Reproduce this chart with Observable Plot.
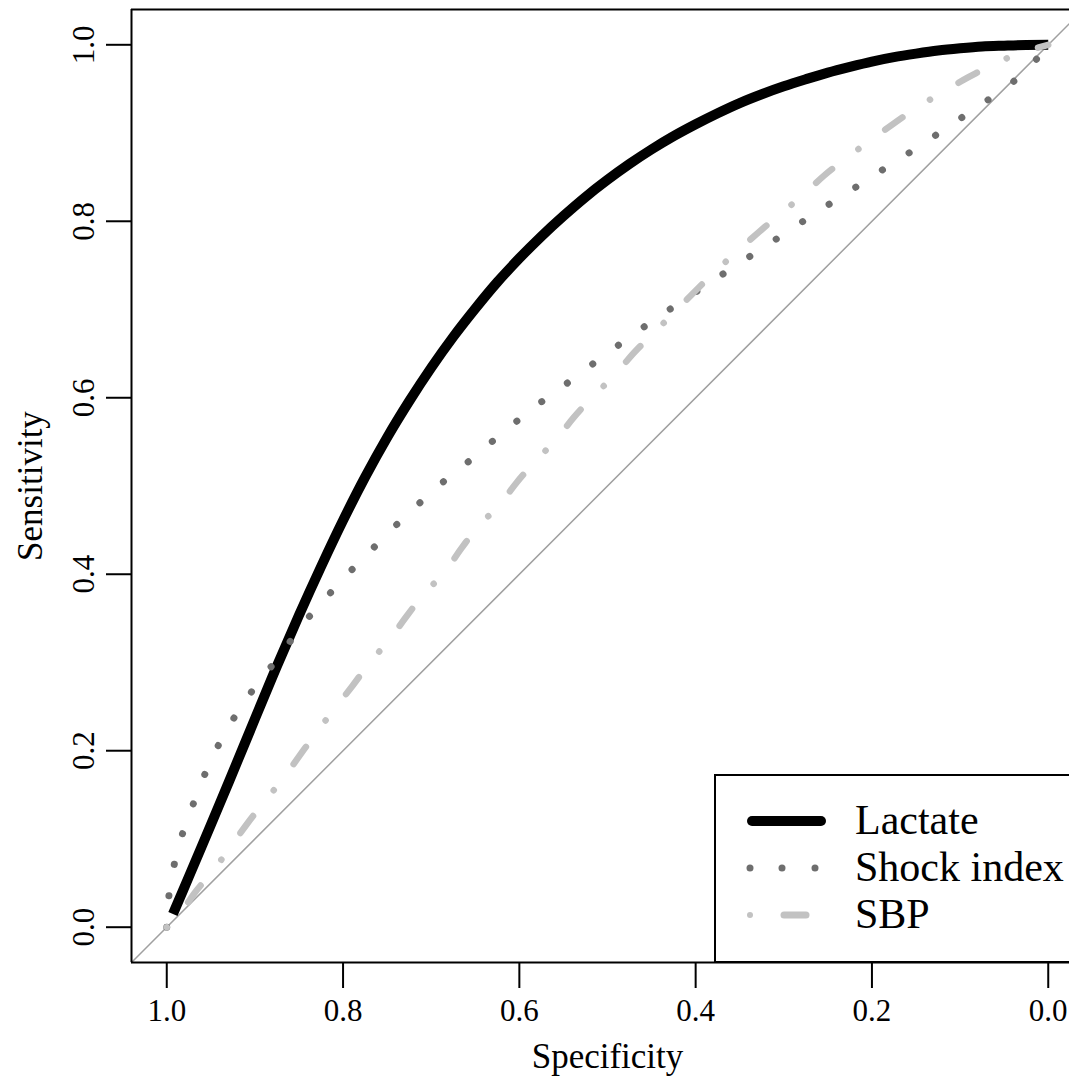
<!DOCTYPE html>
<html><head><meta charset="utf-8">
<script src="https://cdn.jsdelivr.net/npm/d3@7"></script>
<script src="https://cdn.jsdelivr.net/npm/@observablehq/plot@0.6"></script>
<style>html,body{margin:0;padding:0;overflow:hidden;background:#fff;}</style>
</head><body><div id="chart"></div>
<script>
// Axis domains and ticks
const xDomain = [1.04, -0.04];
const yDomain = [-0.04, 1.04];
const xTicks = [1.0, 0.8, 0.6, 0.4, 0.2, 0.0];
const yTicks = [0.0, 0.2, 0.4, 0.6, 0.8, 1.0];
const seriesNames = ["Lactate", "Shock index", "SBP"];

// Lactate (smoothed ROC)
const lactateSpec = [0.993, 0.975, 0.95, 0.929, 0.90, 0.875, 0.85, 0.825, 0.80, 0.775, 0.75, 0.725, 0.70, 0.675, 0.65, 0.625, 0.60, 0.575, 0.55, 0.525, 0.50, 0.475, 0.45, 0.425, 0.40, 0.375, 0.35, 0.325, 0.30, 0.275, 0.25, 0.225, 0.20, 0.175, 0.15, 0.125, 0.10, 0.075, 0.05, 0.025, 0.0];
const lactateSens = [0.015, 0.057, 0.116, 0.166, 0.236, 0.296, 0.3535, 0.4085, 0.461, 0.510, 0.555, 0.596, 0.634, 0.669, 0.701, 0.731, 0.758, 0.783, 0.806, 0.8275, 0.847, 0.865, 0.8815, 0.8965, 0.910, 0.9225, 0.934, 0.944, 0.953, 0.961, 0.9685, 0.975, 0.981, 0.986, 0.990, 0.9935, 0.996, 0.998, 0.999, 0.9998, 1.0];

// Shock index
const shockSpec = [1.0, 0.999, 0.994, 0.986, 0.974, 0.962, 0.94, 0.92, 0.90, 0.87, 0.846, 0.823, 0.799, 0.774, 0.749, 0.722, 0.697, 0.668, 0.641, 0.613, 0.585, 0.557, 0.528, 0.498, 0.469, 0.440, 0.38, 0.3205, 0.290, 0.260, 0.230, 0.1996, 0.1694, 0.139, 0.109, 0.080, 0.050, 0.023, 0.0];
const shockSens = [0.0, 0.023, 0.058, 0.094, 0.128, 0.161, 0.209, 0.243, 0.272, 0.31, 0.343, 0.369, 0.396, 0.421, 0.447, 0.472, 0.496, 0.519, 0.542, 0.565, 0.588, 0.608, 0.630, 0.652, 0.673, 0.693, 0.733, 0.772, 0.792, 0.812, 0.831, 0.851, 0.870, 0.890, 0.910, 0.930, 0.950, 0.973, 1.0];

// SBP
const sbpSpec = [1.0, 0.989, 0.969, 0.946, 0.929, 0.909, 0.887, 0.870, 0.83, 0.789, 0.768, 0.748, 0.729, 0.708, 0.685, 0.666, 0.646, 0.623, 0.603, 0.581, 0.558, 0.538, 0.515, 0.4925, 0.470, 0.447, 0.426, 0.38, 0.328, 0.302, 0.279, 0.254, 0.226, 0.204, 0.175, 0.147, 0.122, 0.091, 0.060, 0.033, 0.0];
const sbpSens = [0.0, 0.009, 0.038, 0.066, 0.089, 0.117, 0.145, 0.166, 0.221, 0.274, 0.302, 0.325, 0.351, 0.378, 0.402, 0.429, 0.455, 0.478, 0.504, 0.529, 0.553, 0.578, 0.603, 0.625, 0.651, 0.674, 0.695, 0.741, 0.788, 0.810, 0.829, 0.852, 0.874, 0.890, 0.911, 0.930, 0.945, 0.963, 0.979, 0.990, 1.0];

const toRows = (sp, se) => sp.map((s, i) => ({spec: s, sens: se[i]}));
const lactate = toRows(lactateSpec, lactateSens);
const shock = toRows(shockSpec, shockSens);
const sbp = toRows(sbpSpec, sbpSens);
const diagonal = xDomain.map(s => ({spec: s, sens: 1 - s}));

const FONT = "Liberation Serif";
const fmt = d3.format(".1f");
const SHOCK_COLOR = "#6e6e6e";
const SBP_COLOR = "#c2c2c2";

const plot = Plot.plot({
  width: 1069,
  height: 1077,
  marginLeft: 131,
  marginRight: -14,
  marginTop: 9,
  marginBottom: 115,
  style: {fontFamily: FONT, fontSize: "31px", color: "black", background: "white", overflow: "hidden"},
  x: {domain: xDomain},
  y: {domain: yDomain},
  marks: [
    Plot.line(diagonal, {x: "spec", y: "sens", stroke: "#a0a0a0", strokeWidth: 1.5}),
    Plot.line(lactate, {x: "spec", y: "sens", stroke: "black", strokeWidth: 10, curve: "catmull-rom", strokeLinecap: "butt"}),
    Plot.line(shock, {x: "spec", y: "sens", stroke: SHOCK_COLOR, strokeWidth: 7, curve: "catmull-rom", strokeLinecap: "round", strokeDasharray: "0.1,31.6"}),
    Plot.line(sbp, {x: "spec", y: "sens", stroke: SBP_COLOR, strokeWidth: 6.5, curve: "catmull-rom", strokeLinecap: "round", strokeDasharray: "0.1,33,21,33"}),
    Plot.ruleX([xDomain[0]], {stroke: "black", strokeWidth: 2}),
    Plot.ruleY(yDomain, {stroke: "black", strokeWidth: 2}),
    Plot.axisX({ticks: xTicks, tickSize: 26, tickPadding: 10, tickFormat: fmt, fontSize: 31, strokeWidth: 2, label: null}),
    Plot.axisY({ticks: yTicks, tickSize: 25, tickFormat: () => "", strokeWidth: 2, label: null}),
    Plot.text(yTicks, {y: d => d, text: d => fmt(d), frameAnchor: "left", rotate: -90, dx: -47, fontSize: 31, textAnchor: "middle", lineAnchor: "middle"}),
    Plot.text(["Specificity"], {frameAnchor: "bottom", dy: 94, fontSize: 35, textAnchor: "middle", lineAnchor: "middle"}),
    Plot.text(["Sensitivity"], {frameAnchor: "left", rotate: -90, dx: -101, fontSize: 35, textAnchor: "middle", lineAnchor: "middle"})
  ]
});
document.getElementById("chart").appendChild(plot);

// Legend (bottom-right, boxed)
const svg = d3.select(plot);
const lg = svg.append("g").attr("font-family", FONT).attr("font-size", 42).attr("text-anchor", "start");
lg.append("rect").attr("x", 715).attr("y", 775).attr("width", 400).attr("height", 187)
  .attr("fill", "white").attr("stroke", "black").attr("stroke-width", 2);
const rowY = [821, 868, 915];
lg.append("line").attr("x1", 752).attr("x2", 821).attr("y1", rowY[0]).attr("y2", rowY[0])
  .attr("stroke", "black").attr("stroke-width", 10).attr("stroke-linecap", "round");
[750, 782, 815].forEach(cx => lg.append("circle").attr("cx", cx).attr("cy", rowY[1]).attr("r", 3.5).attr("fill", SHOCK_COLOR));
lg.append("circle").attr("cx", 750).attr("cy", rowY[2]).attr("r", 3).attr("fill", SBP_COLOR);
lg.append("line").attr("x1", 784).attr("x2", 806).attr("y1", rowY[2]).attr("y2", rowY[2])
  .attr("stroke", SBP_COLOR).attr("stroke-width", 7).attr("stroke-linecap", "round");
seriesNames.forEach((name, i) => lg.append("text").attr("x", 855).attr("y", rowY[i] + 13).attr("fill", "black").text(name));
</script>
</body></html>
